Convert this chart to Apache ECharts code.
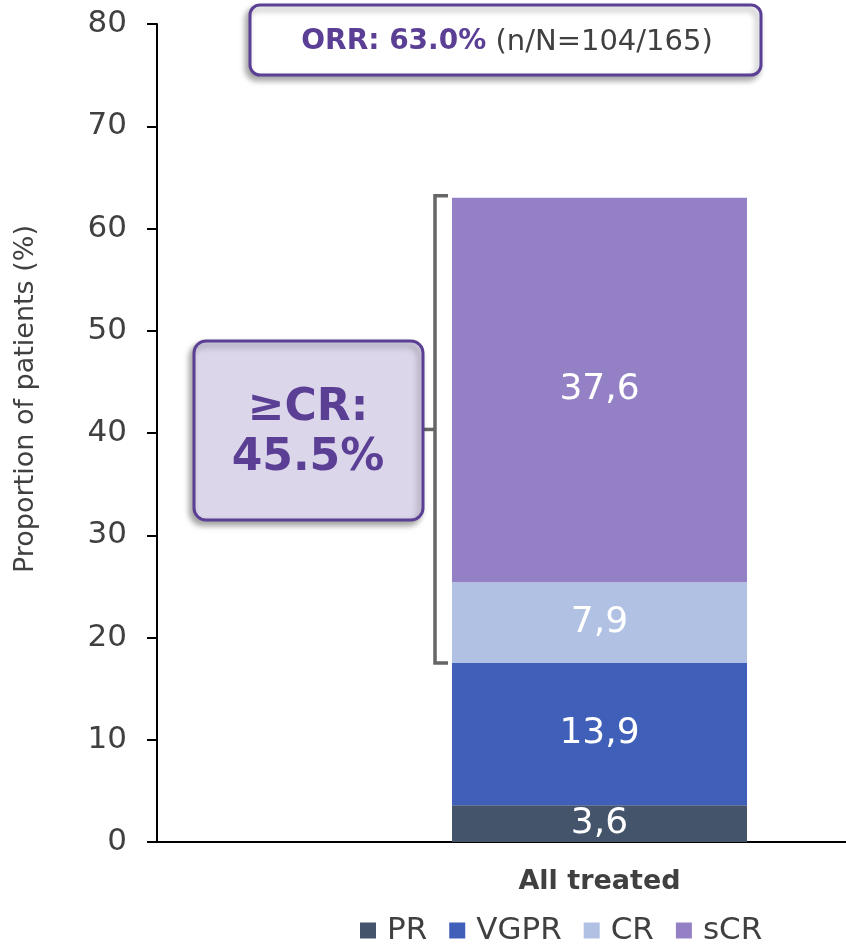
<!DOCTYPE html>
<html>
<head>
<meta charset="utf-8">
<script src="https://cdn.jsdelivr.net/npm/echarts@6/dist/echarts.min.js"></script>
<style>
  html, body { margin: 0; padding: 0; background: #fff; }
  #chart { width: 846px; height: 944px; }
</style>
</head>
<body>
<div id="chart"></div>
<script>
// data
var categories = ['All treated'];
var seriesNames = ['PR', 'VGPR', 'CR', 'sCR'];
var prValues = [3.6];
var vgprValues = [13.9];
var crValues = [7.9];
var scrValues = [37.6];
var yTicks = [0, 10, 20, 30, 40, 50, 60, 70, 80];

var colors = ['#44546A', '#3F5FB9', '#B0C1E3', '#9480C5'];
var font = 'DejaVu Sans';

function fmt(p) {
    return p.value.toFixed(1).replace('.', ',');
}

function bar(name, data, color) {
    return {
        name: name,
        type: 'bar',
        stack: 'all',
        barWidth: 295,
        data: data,
        itemStyle: { color: color },
        label: {
            show: true,
            position: 'inside',
            color: '#fff',
            fontFamily: font,
            fontSize: 36,
            formatter: fmt
        }
    };
}

var chart = echarts.init(document.getElementById('chart'));

var option = {
    animation: false,
    textStyle: { fontFamily: font },
    // plot runs past the right edge so the bar sits right of centre
    grid: {
        left: 157, top: 24, bottom: 102, right: -196,
        containLabel: false,
        outerBoundsMode: 'none'
    },
    legend: {
        data: seriesNames,
        left: 355,
        top: 910,
        icon: 'rect',
        itemWidth: 16,
        itemHeight: 16,
        itemGap: 22,
        textStyle: { fontFamily: font, fontSize: 31, color: '#404040', padding: [0, 0, 0, 6] }
    },
    xAxis: {
        type: 'category',
        data: categories,
        axisLine: { lineStyle: { color: '#000', width: 2 } },
        axisTick: { show: false },
        axisLabel: {
            margin: 26,
            fontFamily: font,
            fontSize: 27,
            fontWeight: 'bold',
            color: '#404040'
        }
    },
    yAxis: {
        type: 'value',
        min: yTicks[0],
        max: yTicks[yTicks.length - 1],
        interval: 10,
        name: 'Proportion of patients (%)',
        nameLocation: 'middle',
        nameGap: 118,
        nameTextStyle: { fontFamily: font, fontSize: 27, color: '#404040', padding: [0, 0, 0, 68] },
        splitLine: { show: false },
        axisLine: { show: true, lineStyle: { color: '#000', width: 2 } },
        axisTick: { show: true, length: 10, lineStyle: { color: '#000', width: 2 } },
        axisLabel: { margin: 30, fontFamily: font, fontSize: 31, color: '#404040' }
    },
    series: [
        bar(seriesNames[0], prValues, colors[0]),
        bar(seriesNames[1], vgprValues, colors[1]),
        bar(seriesNames[2], crValues, colors[2]),
        bar(seriesNames[3], scrValues, colors[3])
    ]
};

chart.setOption(option);

// annotations: bracket for >=CR and the two boxes
var crBottom = prValues[0] + vgprValues[0];
var total = crBottom + crValues[0] + scrValues[0];
var yTop = chart.convertToPixel({ yAxisIndex: 0 }, total) - 2;
var yBot = chart.convertToPixel({ yAxisIndex: 0 }, crBottom);
var yMid = (yTop + yBot) / 2;
var barLeft = chart.convertToPixel({ xAxisIndex: 0 }, 0) - 295 / 2;
var bx = barLeft - 17;
var bracketStyle = { stroke: '#666', lineWidth: 3.5, fill: null };

chart.setOption({
    graphic: [
        {
            type: 'polyline',
            shape: { points: [[bx + 13, yTop], [bx, yTop], [bx, yBot], [bx + 13, yBot]] },
            style: bracketStyle
        },
        {
            type: 'line',
            shape: { x1: bx - 13, y1: yMid, x2: bx, y2: yMid },
            style: bracketStyle
        },
        {
            type: 'rect',
            shape: { x: 194, y: 341, width: 229, height: 179, r: 12 },
            style: {
                fill: '#DCD6EB', stroke: '#5B3F95', lineWidth: 3,
                shadowBlur: 6, shadowOffsetX: -3, shadowOffsetY: 4, shadowColor: 'rgba(0,0,0,0.35)'
            }
        },
        {
            type: 'text',
            x: 308,
            y: 434,
            style: {
                text: '\u2265CR:\n45.5%',
                fill: '#5B3F95',
                font: 'bold 44px "DejaVu Sans"',
                lineHeight: 50,
                align: 'center',
                verticalAlign: 'middle'
            }
        },
        {
            type: 'rect',
            shape: { x: 250, y: 5, width: 511, height: 70, r: 10 },
            style: {
                fill: '#fff', stroke: '#5B3F95', lineWidth: 3,
                shadowBlur: 6, shadowOffsetX: -3, shadowOffsetY: 4, shadowColor: 'rgba(0,0,0,0.35)'
            }
        },
        {
            type: 'text',
            x: 507,
            y: 42,
            style: {
                text: '{b|ORR: 63.0%}{n| (n/N=104/165)}',
                align: 'center',
                verticalAlign: 'middle',
                rich: {
                    b: { fontFamily: font, fontSize: 28, fontWeight: 'bold', fill: '#5B3F95', color: '#5B3F95' },
                    n: { fontFamily: font, fontSize: 29, fill: '#404040', color: '#404040' }
                }
            }
        }
    ]
});
</script>
</body>
</html>
